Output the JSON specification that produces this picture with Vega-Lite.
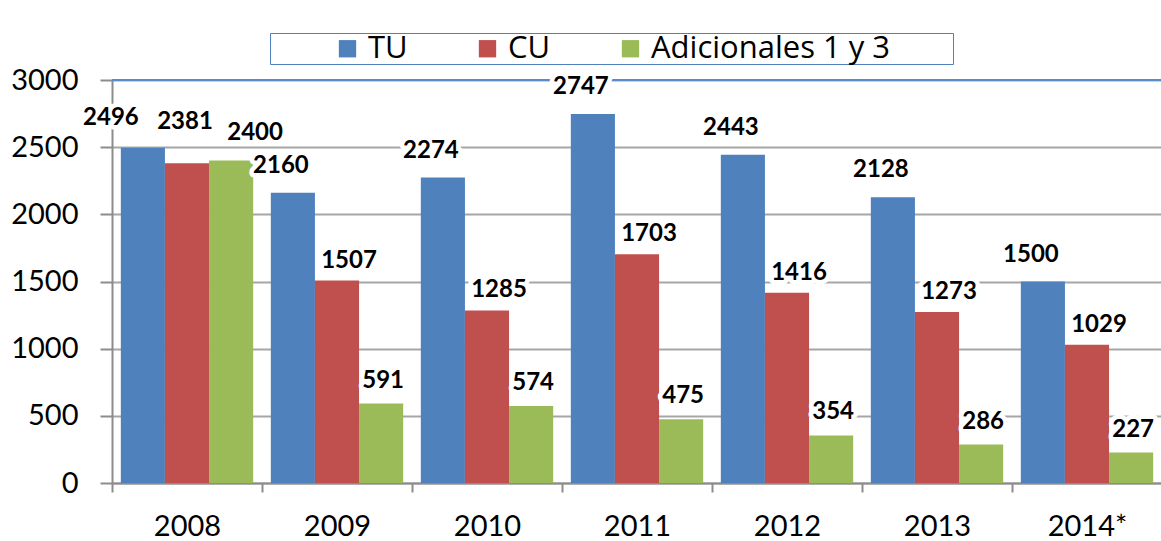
{
  "$schema": "https://vega.github.io/schema/vega-lite/v6.json",
  "width": 1050,
  "height": 403,
  "autosize": {"type": "none"},
  "padding": {"left": 112, "top": 80, "right": 0, "bottom": 58},
  "background": "white",
  "config": {
    "font": "Lato",
    "view": {"stroke": null},
    "text": {"fontSize": 24, "fontWeight": "bold", "baseline": "middle"}
  },
  "data": {
    "values": [
      {"year": "2008", "series": "TU", "value": 2496},
      {"year": "2008", "series": "CU", "value": 2381},
      {"year": "2008", "series": "Adicionales 1 y 3", "value": 2400},
      {"year": "2009", "series": "TU", "value": 2160},
      {"year": "2009", "series": "CU", "value": 1507},
      {"year": "2009", "series": "Adicionales 1 y 3", "value": 591},
      {"year": "2010", "series": "TU", "value": 2274},
      {"year": "2010", "series": "CU", "value": 1285},
      {"year": "2010", "series": "Adicionales 1 y 3", "value": 574},
      {"year": "2011", "series": "TU", "value": 2747},
      {"year": "2011", "series": "CU", "value": 1703},
      {"year": "2011", "series": "Adicionales 1 y 3", "value": 475},
      {"year": "2012", "series": "TU", "value": 2443},
      {"year": "2012", "series": "CU", "value": 1416},
      {"year": "2012", "series": "Adicionales 1 y 3", "value": 354},
      {"year": "2013", "series": "TU", "value": 2128},
      {"year": "2013", "series": "CU", "value": 1273},
      {"year": "2013", "series": "Adicionales 1 y 3", "value": 286},
      {"year": "2014*", "series": "TU", "value": 1500},
      {"year": "2014*", "series": "CU", "value": 1029},
      {"year": "2014*", "series": "Adicionales 1 y 3", "value": 227}
    ]
  },
  "encoding": {
    "y": {
      "field": "value", "type": "quantitative",
      "scale": {"domain": [0, 3000], "nice": false},
      "axis": {
        "title": null, "values": [0, 500, 1000, 1500, 2000, 2500, 3000], "format": "d",
        "labelFontSize": 29, "labelColor": "black", "labelPadding": 22,
        "tickSize": 12, "tickColor": "#8C8C8C", "tickWidth": 2,
        "domainColor": "#8C8C8C", "domainWidth": 2,
        "grid": true, "gridColor": "#A6A6A6", "gridWidth": 2
      }
    }
  },
  "layer": [
    {
      "mark": {"type": "bar"},
      "encoding": {
        "x": {
          "field": "year", "type": "nominal", "sort": null,
          "scale": {"paddingInner": 0, "paddingOuter": 0},
          "axis": {
            "title": null, "labelAngle": 0, "labelFontSize": 29, "labelColor": "black",
            "labelPadding": 20, "tickBand": "extent", "tickSize": 9, "tickColor": "#8C8C8C",
            "tickWidth": 2, "domainColor": "#8C8C8C", "domainWidth": 2, "grid": false
          }
        },
        "xOffset": {
          "field": "series", "type": "nominal",
          "scale": {"domain": ["TU", "CU", "Adicionales 1 y 3"], "paddingInner": 0, "paddingOuter": 0.2}
        },
        "color": {
          "field": "series", "type": "nominal",
          "scale": {"domain": ["TU", "CU", "Adicionales 1 y 3"], "range": ["#4F81BD", "#C0504D", "#9BBB59"]},
          "legend": {
            "orient": "none", "legendX": 158, "legendY": -47,
            "direction": "horizontal",
            "title": " ", "titleOrient": "left", "titlePadding": 62, "titleFontSize": 8,
            "labelFont": "Open Sans", "labelFontSize": 31, "labelColor": "black", "labelLimit": 800, "labelOffset": 5,
            "labelExpr": "datum.value == 'Adicionales 1 y 3' ? datum.label + '\u2003\u2003\u200b' : datum.label",
            "symbolType": "square", "symbolSize": 300, "symbolStrokeWidth": 0,
            "columnPadding": 64, "padding": 0,
            "strokeColor": "#4F81BD", "fillColor": "white"
          }
        }
      }
    },
    {
      "mark": {"type": "rule", "color": "#5B8BC6", "strokeWidth": 2},
      "encoding": {"y": {"datum": 3000}}
    },
    {
      "transform": [{"filter": "datum.year != '2008'"}],
      "encoding": {
        "x": {"field": "year", "type": "nominal", "sort": null},
        "xOffset": {"field": "series", "type": "nominal"},
        "text": {"field": "value", "type": "quantitative"}
      },
      "layer": [
        {"transform": [{"filter": "datum.series == 'TU'"}],
         "layer": [
           {"mark": {"type": "text", "dx": -12, "dy": -27, "stroke": "white", "strokeWidth": 9, "strokeJoin": "round", "fill": "white"}},
           {"mark": {"type": "text", "dx": -12, "dy": -27, "fill": "black"}}
         ]},
        {"transform": [{"filter": "datum.series == 'CU'"}],
         "layer": [
           {"mark": {"type": "text", "dx": 12, "dy": -20, "stroke": "white", "strokeWidth": 9, "strokeJoin": "round", "fill": "white"}},
           {"mark": {"type": "text", "dx": 12, "dy": -20, "fill": "black"}}
         ]},
        {"transform": [{"filter": "datum.series == 'Adicionales 1 y 3'"}],
         "layer": [
           {"mark": {"type": "text", "dx": 2, "dy": -23, "stroke": "white", "strokeWidth": 9, "strokeJoin": "round", "fill": "white"}},
           {"mark": {"type": "text", "dx": 2, "dy": -23, "fill": "black"}}
         ]}
      ]
    },
    {
      "transform": [{"filter": "datum.year == '2008'"}],
      "encoding": {
        "x": {"field": "year", "type": "nominal", "sort": null},
        "xOffset": {"field": "series", "type": "nominal"},
        "text": {"field": "value", "type": "quantitative"}
      },
      "layer": [
        {"transform": [{"filter": "datum.series == 'TU'"}],
         "layer": [
           {"mark": {"type": "text", "dx": -32, "dy": -30, "stroke": "white", "strokeWidth": 9, "strokeJoin": "round", "fill": "white"}},
           {"mark": {"type": "text", "dx": -32, "dy": -30, "fill": "black"}}
         ]},
        {"transform": [{"filter": "datum.series == 'CU'"}],
         "layer": [
           {"mark": {"type": "text", "dx": -2, "dy": -41, "stroke": "white", "strokeWidth": 9, "strokeJoin": "round", "fill": "white"}},
           {"mark": {"type": "text", "dx": -2, "dy": -41, "fill": "black"}}
         ]},
        {"transform": [{"filter": "datum.series == 'Adicionales 1 y 3'"}],
         "layer": [
           {"mark": {"type": "text", "dx": 24, "dy": -28, "stroke": "white", "strokeWidth": 9, "strokeJoin": "round", "fill": "white"}},
           {"mark": {"type": "text", "dx": 24, "dy": -28, "fill": "black"}}
         ]}
      ]
    }
  ]
}
